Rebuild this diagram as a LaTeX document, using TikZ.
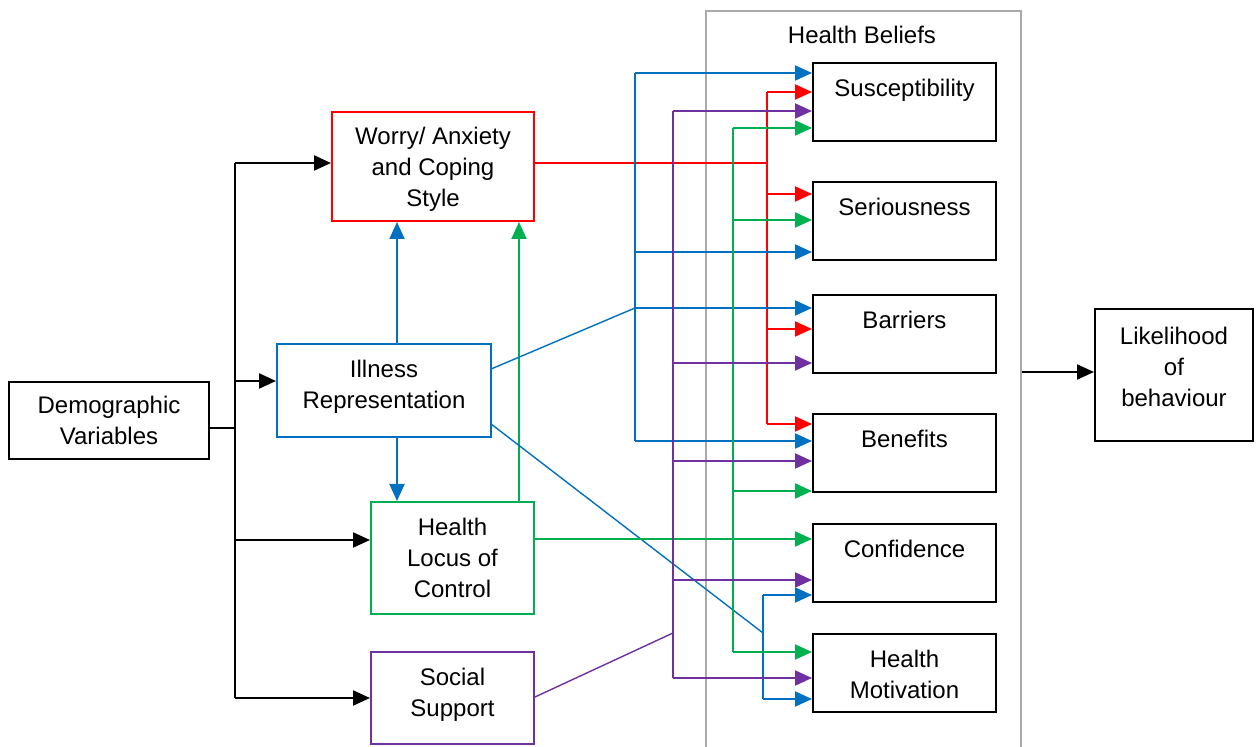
\documentclass[tikz,border=0pt]{standalone}
\usepackage{fontspec}
\setmainfont{Liberation Sans}
\usetikzlibrary{arrows.meta,calc}
\definecolor{cred}{RGB}{255,0,0}
\definecolor{cblue}{RGB}{0,112,192}
\definecolor{cgreen}{RGB}{0,176,80}
\definecolor{cpurple}{RGB}{112,48,160}
\definecolor{cgrey}{RGB}{170,170,170}
\tikzset{
  box/.style={draw, line width=1pt, anchor=north west, align=center, inner sep=2pt,
    font=\fontsize{12}{15.5}\selectfont},
  hbox/.style={box, minimum width=91.5pt, minimum height=39pt},
  toplabel/.style={anchor=north, inner sep=0pt, yshift=-8.3pt, align=center,
    font=\fontsize{12}{15.5}\selectfont},
  midlabel/.style={anchor=center, inner sep=0pt, align=center,
    font=\fontsize{12}{15.5}\selectfont},
  arr/.style={-{Triangle[length=8.5pt,width=7.5pt]}},
  blk/.style={draw=black, line width=1.1pt},
  blu/.style={draw=cblue, line width=1pt},
  grn/.style={draw=cgreen, line width=1pt},
  pur/.style={draw=cpurple, line width=1pt},
  rd/.style={draw=cred, line width=1pt},
  thin/.style={line width=0.7pt},
}
\begin{document}
\begin{tikzpicture}[x=0.5pt,y=-0.5pt]
\useasboundingbox (0,0) rectangle (1260,747);
% Health Beliefs container
\node[draw=cgrey, line width=1pt, anchor=north west, minimum width=157.5pt, minimum height=390pt, inner sep=0pt] (hb) at (705,10) {};
\node[font=\fontsize{12}{15.5}\selectfont] (hbt) at (862,35) {Health Beliefs};
% left boxes
\node[box, minimum width=100pt, minimum height=38.5pt] (demo) at (8,381) {Demographic\\Variables};
\node[box, draw=cred, minimum width=101pt, minimum height=54.5pt,
  label={[midlabel,yshift=-1.5pt]center:Worry/ Anxiety\\and Coping\\Style}] (worry) at (331,111) {};
\node[box, draw=cblue, minimum width=107pt, minimum height=46.5pt,
  label={[midlabel,yshift=2pt]center:Illness\\Representation}] (ill) at (276,343) {};
\node[box, draw=cgreen, minimum width=81.5pt, minimum height=56pt] (hlc) at (370,501) {Health\\Locus of\\Control};
\node[box, draw=cpurple, minimum width=81.5pt, minimum height=46pt,
  label={[midlabel,yshift=1.5pt]center:Social\\Support}] (soc) at (370,651) {};
% right boxes
\node[hbox, label={[toplabel]north:Susceptibility}] (sus) at (812,62) {};
\node[hbox, label={[toplabel]north:Seriousness}] (ser) at (812,181) {};
\node[hbox, label={[toplabel]north:Barriers}] (bar) at (812,294) {};
\node[hbox, label={[toplabel]north:Benefits}] (ben) at (812,413) {};
\node[hbox, label={[toplabel]north:Confidence}] (conf) at (812,523) {};
\node[hbox, label={[toplabel]north:Health\\Motivation}] (hm) at (812,633) {};
\node[box, minimum width=79pt, minimum height=66pt,
  label={[midlabel,yshift=4pt]center:Likelihood\\of\\behaviour}] (like) at (1094,308) {};
% outcome arrow
\coordinate (lk) at (1094,372);
\draw[blk,arr] (hb.east |- lk) -- (lk);
% black bus
\coordinate (k0) at (235,428);
\coordinate (k1) at (235,163);
\coordinate (k2) at (235,381);
\coordinate (k3) at (235,540);
\coordinate (k4) at (235,698);
\draw[blk] (demo.east |- k0) -- (k0);
\draw[blk] (k1) -- (k4);
\draw[blk,arr] (k1) -- (worry.west |- k1);
\draw[blk,arr] (k2) -- (ill.west |- k2);
\draw[blk,arr] (k3) -- (hlc.west |- k3);
\draw[blk,arr] (k4) -- (soc.west |- k4);
% verticals between left boxes
\coordinate (b0) at (397,0);
\coordinate (g0) at (519,0);
\draw[blu,arr] (ill.north -| b0) -- (worry.south -| b0);
\draw[blu,arr] (ill.south -| b0) -- (hlc.north -| b0);
\draw[grn,arr] (hlc.north -| g0) -- (worry.south -| g0);
% red bus
\coordinate (r0) at (767,163);
\coordinate (rT) at (767,92);
\coordinate (r2) at (767,194);
\coordinate (r3) at (767,329);
\coordinate (rB) at (767,424);
\draw[rd,thin] (worry.east |- r0) -- (r0);
\draw[rd] (rT) -- (rB);
\draw[rd,arr] (rT) -- (sus.west |- rT);
\draw[rd,arr] (r2) -- (ser.west |- r2);
\draw[rd,arr] (r3) -- (bar.west |- r3);
\draw[rd,arr] (rB) -- (ben.west |- rB);
% blue bus 1
\coordinate (bT) at (635,73);
\coordinate (b2) at (635,252);
\coordinate (bJ) at (635,308);
\coordinate (bB) at (635,441);
\draw[blu,thin] ($(ill.north east)!0.27!(ill.south east)$) -- (bJ);
\draw[blu] (bT) -- (bB);
\draw[blu,arr] (bT) -- (sus.west |- bT);
\draw[blu,arr] (b2) -- (ser.west |- b2);
\draw[blu,arr] (bJ) -- (bar.west |- bJ);
\draw[blu,arr] (bB) -- (ben.west |- bB);
% blue bus 2
\coordinate (cT) at (763,595);
\coordinate (cJ) at (763,633);
\coordinate (cB) at (763,699);
\draw[blu,thin] ($(ill.north east)!0.86!(ill.south east)$) -- (cJ);
\draw[blu] (cT) -- (cB);
\draw[blu,arr] (cT) -- (conf.west |- cT);
\draw[blu,arr] (cB) -- (hm.west |- cB);
% green bus
\coordinate (gT) at (733,128);
\coordinate (g2) at (733,220);
\coordinate (g3) at (733,491);
\coordinate (gC) at (733,539);
\coordinate (gB) at (733,652);
\draw[grn] (gT) -- (gB);
\draw[grn,arr] (gT) -- (sus.west |- gT);
\draw[grn,arr] (g2) -- (ser.west |- g2);
\draw[grn,arr] (g3) -- (ben.west |- g3);
\draw[grn,thin] (hlc.east |- gC) -- (gC);
\draw[grn,arr] (gC) -- (conf.west |- gC);
\draw[grn,arr] (gB) -- (hm.west |- gB);
% purple bus
\coordinate (pT) at (673,111);
\coordinate (p2) at (673,363);
\coordinate (p3) at (673,461);
\coordinate (p4) at (673,580);
\coordinate (pJ) at (673,633);
\coordinate (pB) at (673,678);
\coordinate (ps) at (533,697);
\draw[pur,thin] (soc.east |- ps) -- (pJ);
\draw[pur] (pT) -- (pB);
\draw[pur,arr] (pT) -- (sus.west |- pT);
\draw[pur,arr] (p2) -- (bar.west |- p2);
\draw[pur,arr] (p3) -- (ben.west |- p3);
\draw[pur,arr] (p4) -- (conf.west |- p4);
\draw[pur,arr] (pB) -- (hm.west |- pB);
\end{tikzpicture}
\end{document}
